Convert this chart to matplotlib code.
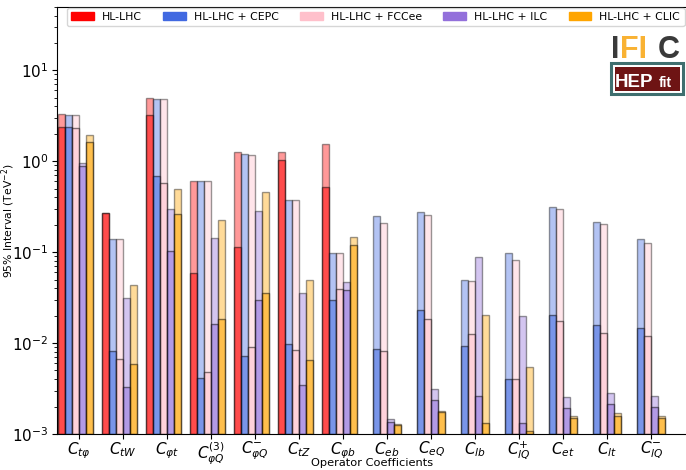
import numpy as np
import matplotlib
matplotlib.use("Agg")
import matplotlib.pyplot as plt
from matplotlib.patches import Rectangle

labels = [r"$C_{t\varphi}$", r"$C_{tW}$", r"$C_{\varphi t}$", r"$C_{\varphi Q}^{(3)}$",
          r"$C_{\varphi Q}^{-}$", r"$C_{tZ}$", r"$C_{\varphi b}$", r"$C_{eb}$",
          r"$C_{eQ}$", r"$C_{lb}$", r"$C_{lQ}^{+}$", r"$C_{et}$", r"$C_{lt}$",
          r"$C_{lQ}^{-}$"]

series = ["HL-LHC", "HL-LHC + CEPC", "HL-LHC + FCCee", "HL-LHC + ILC", "HL-LHC + CLIC"]
colors = ["red", "royalblue", "pink", "mediumpurple", "orange"]

nan = np.nan
# global (marginalised) 95% intervals
glob_hllhc = [3.28, 0.272, 4.92, 0.603, 1.27, 1.27, 1.55, nan, nan, nan, nan, nan, nan, nan]
glob_cepc  = [3.2, 0.14, 4.79, 0.603, 1.2, 0.374, 0.098, 0.248, 0.279, 0.0488, 0.098, 0.311, 0.215, 0.14]
glob_fccee = [3.2, 0.14, 4.79, 0.603, 1.18, 0.374, 0.098, 0.211, 0.256, 0.0476, 0.0823, 0.298, 0.204, 0.127]
glob_ilc   = [0.944, 0.0312, 0.295, 0.144, 0.286, 0.0354, 0.0472, 1.45e-3, 3.1e-3, 0.088, 0.0198, 2.56e-3, 2.86e-3, 2.59e-3]
glob_clic  = [1.93, 0.0438, 0.49, 0.226, 0.454, 0.0497, 0.146, 1.28e-3, 1.8e-3, 0.0202, 5.47e-3, 1.56e-3, 1.69e-3, 1.57e-3]

# individual 95% intervals
ind_hllhc = [2.38, 0.267, 3.23, 0.0593, 0.115, 1.04, 0.515, nan, nan, nan, nan, nan, nan, nan]
ind_cepc  = [2.38, 8.1e-3, 0.68, 4.1e-3, 7.2e-3, 9.7e-3, 0.0295, 8.55e-3, 0.0229, 9.3e-3, 4.0e-3, 0.0205, 0.0157, 0.0147]
ind_fccee = [2.34, 6.6e-3, 0.575, 4.86e-3, 9.0e-3, 8.3e-3, 0.0389, 8.1e-3, 0.0184, 0.0125, 4.0e-3, 0.0173, 0.0128, 0.012]
ind_ilc   = [0.875, 3.3e-3, 0.104, 0.0163, 0.030, 3.5e-3, 0.0382, 1.35e-3, 2.36e-3, 2.6e-3, 1.33e-3, 1.93e-3, 2.15e-3, 1.98e-3]
ind_clic  = [1.63, 5.9e-3, 0.263, 0.0182, 0.0357, 6.5e-3, 0.121, 1.25e-3, 1.74e-3, 1.31e-3, 1.07e-3, 1.51e-3, 1.59e-3, 1.49e-3]

glob = [glob_hllhc, glob_cepc, glob_fccee, glob_ilc, glob_clic]
ind = [ind_hllhc, ind_cepc, ind_fccee, ind_ilc, ind_clic]

W, H = 686, 470
fig = plt.figure(figsize=(W / 100, H / 100), dpi=100)
ax = fig.add_axes([57 / W, 36 / H, (686.5 - 57) / W, (434 - 6.7) / H])

x = np.arange(len(labels))
w = 0.16
ybase = 1e-3
for j in range(5):
    pos = x + (j - 2.5) * w
    g = np.array(glob[j], dtype=float)
    i = np.array(ind[j], dtype=float)
    m = ~np.isnan(g)
    ax.bar(pos[m], g[m] - ybase, bottom=ybase, width=w, color=colors[j], alpha=0.4,
           edgecolor="black", linewidth=1.0)
    ax.bar(pos[m], i[m] - ybase, bottom=ybase, width=w, color=colors[j], alpha=0.5,
           edgecolor="black", linewidth=1.0)

ax.set_yscale("log")
ax.set_ylim(1e-3, 50)
ax.set_xlim(-0.5, 13.8)
ax.set_xticks(x)
ax.set_xticklabels(labels, fontsize=11)
ax.tick_params(axis="x", pad=0.8)
ax.tick_params(axis="y", labelsize=11, pad=2.8)
ax.set_ylabel(r"95% Interval (TeV$^{-2}$)", fontsize=7.8)
ax.yaxis.set_label_coords(-0.0635, 0.5)
ax.set_xlabel("Operator Coefficients", fontsize=8.2)
ax.xaxis.set_label_coords(0.5, -0.0565)

handles = [Rectangle((0, 0), 1, 1, color=c) for c in colors]
ax.legend(handles, series, ncol=5, loc="upper right",
          bbox_to_anchor=(684.5 / W, 1 - 7.5 / H), bbox_transform=fig.transFigure,
          fontsize=7.8, handlelength=2.1, handleheight=0.75, columnspacing=1.95,
          borderaxespad=0.0, handletextpad=0.75, frameon=True)

# logos
def fx(px):
    return px / W

def fy(py):
    return 1 - py / H

lk = dict(fontsize=22, fontweight="bold", family="Liberation Sans", va="baseline", ha="left")
fig.text(fx(611), fy(58), "I", color="#3a3a3a", **lk)
fig.text(fx(620), fy(58), "FI", color="#f9b233", **lk)
fig.text(fx(658), fy(58), "C", color="#3a3a3a", **lk)

fig.patches.append(Rectangle((fx(611), fy(94)), fx(683) - fx(611), fy(63) - fy(94),
                             transform=fig.transFigure, facecolor="white",
                             edgecolor="#3f6f6f", linewidth=2.2))
fig.patches.append(Rectangle((fx(614.5), fy(90.5)), fx(679.5) - fx(614.5), fy(66.5) - fy(90.5),
                             transform=fig.transFigure, facecolor="#6e1414",
                             edgecolor="none"))
fig.text(fx(615), fy(87), "HEP", fontsize=13.5, fontweight="bold", family="Liberation Sans",
         color="white", ha="left", va="baseline")
fig.text(fx(659), fy(87), "fit", fontsize=10, fontweight="bold", family="Liberation Sans",
         color="white", ha="left", va="baseline")

fig.savefig("out.png", dpi=100)
